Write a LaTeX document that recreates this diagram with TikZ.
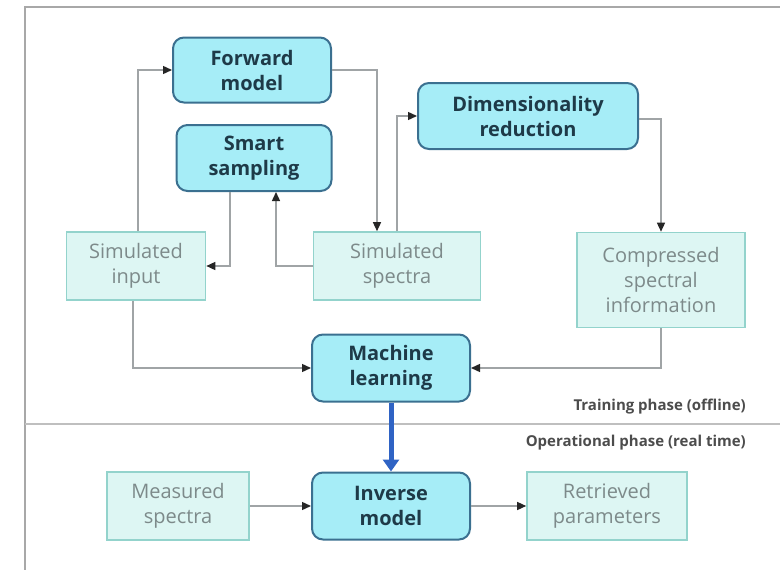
\documentclass[tikz,border=0pt]{standalone}
\usepackage{fontspec}
\setmainfont{Open Sans}
\usepackage{tikz}
\usetikzlibrary{positioning,arrows.meta}

\definecolor{procfill}{HTML}{A6EDF7}
\definecolor{procdraw}{HTML}{3B7090}
\definecolor{proctext}{HTML}{1E3A48}
\definecolor{datafill}{HTML}{DDF6F3}
\definecolor{datadraw}{HTML}{93D3CC}
\definecolor{datatext}{HTML}{7D8A8A}
\definecolor{linkgray}{HTML}{A0A4A6}
\definecolor{framegray}{HTML}{A8A8A8}
\definecolor{mlblue}{HTML}{2F63C4}

\begin{document}
\begin{tikzpicture}[x=1pt,y=-1pt,
      procbox/.style={draw=procdraw,fill=procfill,line width=2pt,rounded corners=11pt,
        align=center,text=proctext,font=\fontsize{20}{25}\selectfont\bfseries,inner sep=0pt},
      databox/.style={draw=datadraw,fill=datafill,line width=1.6pt,
        align=center,text=datatext,font=\fontsize{20}{25}\selectfont,inner sep=0pt},
      link/.style={draw=linkgray,line width=1.4pt,-{Triangle[length=9pt,width=8pt,color=black!85]}},
      phase/.style={font=\fontsize{15}{18}\selectfont\bfseries,text=black!70,anchor=east,inner sep=0pt}
    ]
    \useasboundingbox (0,0) rectangle (780,570);

    % frame and phase separator
    \draw[framegray,line width=1.5pt] (25,570) -- (25,7) -- (780,7);
    \draw[black!25,line width=2pt] (25,424) -- (780,424);
    \node[phase] (train) at (746,407) {Training phase (offline)};
    \node[phase] (oper) at (746,443) {Operational phase (real time)};

    % training phase
    \node[procbox,minimum width=158pt,minimum height=65pt] (fwd) at (252,70) {Forward\\model};
    \node[procbox,minimum width=155pt,minimum height=66pt] (smart) at (254,158) {Smart\\sampling};
    \node[procbox,minimum width=220pt,minimum height=66pt] (dim) at (528,116) {Dimensionality\\reduction};
    \node[databox,minimum width=139pt,minimum height=68pt] (sinput) at (136,266) {Simulated\\input};
    \node[databox,minimum width=167pt,minimum height=68pt] (sspec) at (397,266) {Simulated\\spectra};
    \node[databox,minimum width=168pt,minimum height=95pt] (comp) at (661,280) {Compressed\\spectral\\information};
    \node[procbox,minimum width=158pt,minimum height=67pt] (ml) at (391,368) {Machine\\learning};

    % operational phase
    \node[databox,minimum width=142pt,minimum height=68pt] (meas) at (178,506) {Measured\\spectra};
    \node[procbox,minimum width=158pt,minimum height=67pt] (inv) at (391,506) {Inverse\\model};
    \node[databox,minimum width=160pt,minimum height=68pt] (retr) at (607,506) {Retrieved\\parameters};

    % the connectors
    \draw[link] ([xshift=2pt]sinput.north) |- (fwd.west);
    \draw[link] (fwd.east) -| ([xshift=-20pt]sspec.north);
    \draw[link] (sspec.west) -| ([xshift=22pt]smart.south);
    \draw[link] ([xshift=-24pt]smart.south) |- (sinput.east);
    \draw[link] (sspec.north) |- (dim.west);
    \draw[link] ([yshift=-3pt]dim.east) -| (comp.north);
    \draw[link] ([xshift=-3pt]sinput.south) |- (ml.west);
    \draw[link] (comp.south) |- (ml.east);
    \draw[mlblue,line width=5pt,-{Triangle[length=12pt,width=16pt]}] (ml.south) -- (inv.north);
    \draw[link] (meas.east) -- (inv.west);
    \draw[link] (inv.east) -- (retr.west);
\end{tikzpicture}
\end{document}
